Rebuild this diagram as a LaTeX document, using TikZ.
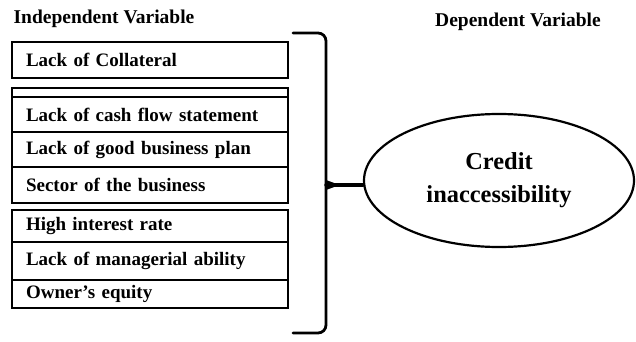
\documentclass[tikz,border=0pt]{standalone}
\usepackage{fontspec}
\setmainfont{Liberation Serif}
\usetikzlibrary{shapes}

\begin{document}
\begin{tikzpicture}[x=1pt,y=-1pt,
    varbox/.style={draw,line width=1.6pt,minimum width=276pt,inner xsep=14pt,
      text width=248pt,align=left,inner ysep=0pt,
      font=\fontsize{19}{22}\selectfont\bfseries},
    head/.style={font=\fontsize{19.5}{22}\selectfont\bfseries},
    brace/.style={line width=2.8pt,line cap=round}]
  \useasboundingbox (0,0) rectangle (636,342);
  \node[head] (iv) at (104,19) {Independent Variable};
  \node[head] (dv) at (518,22) {Dependent Variable};
  \node[varbox,minimum height=36pt] (b1) at (150,60)    {Lack of Collateral};
  \node[varbox,minimum height=9pt]  (b0) at (150,92.5)  {};
  \node[varbox,minimum height=35pt] (b2) at (150,114.5) {Lack of cash flow statement};
  \node[varbox,minimum height=35pt] (b3) at (150,149.5) {Lack of good business plan};
  \node[varbox,minimum height=36pt] (b4) at (150,185)   {Sector of the business};
  \node[varbox,minimum height=32pt] (b5) at (150,226)   {High interest rate};
  \node[varbox,minimum height=38pt] (b6) at (150,261)   {Lack of managerial ability};
  \node[varbox,minimum height=28pt] (b7) at (150,294)   {Owner's equity};
  \node[draw,ellipse,line width=2.2pt,minimum width=270pt,minimum height=133pt,
    align=center,inner sep=0pt,font=\fontsize{24.4}{33}\selectfont\bfseries]
    (cred) at (499,180.5) {Credit\\inaccessibility};
  \draw[brace] (293,33) -- (318,33) to[out=0,in=90] (326,41) -- (326,325)
    to[out=-90,in=0] (318,333) -- (293,333);
  \coordinate (tip) at (326,185);
  \draw[brace,line width=3.4pt] (tip) -- (tip -| cred.west);
  \fill (tip) ++(0,-5) to[out=0,in=180] ++(9,3.3) -- ++(0,3.4)
    to[out=180,in=0] ++(-9,3.3) -- cycle;
\end{tikzpicture}
\end{document}
